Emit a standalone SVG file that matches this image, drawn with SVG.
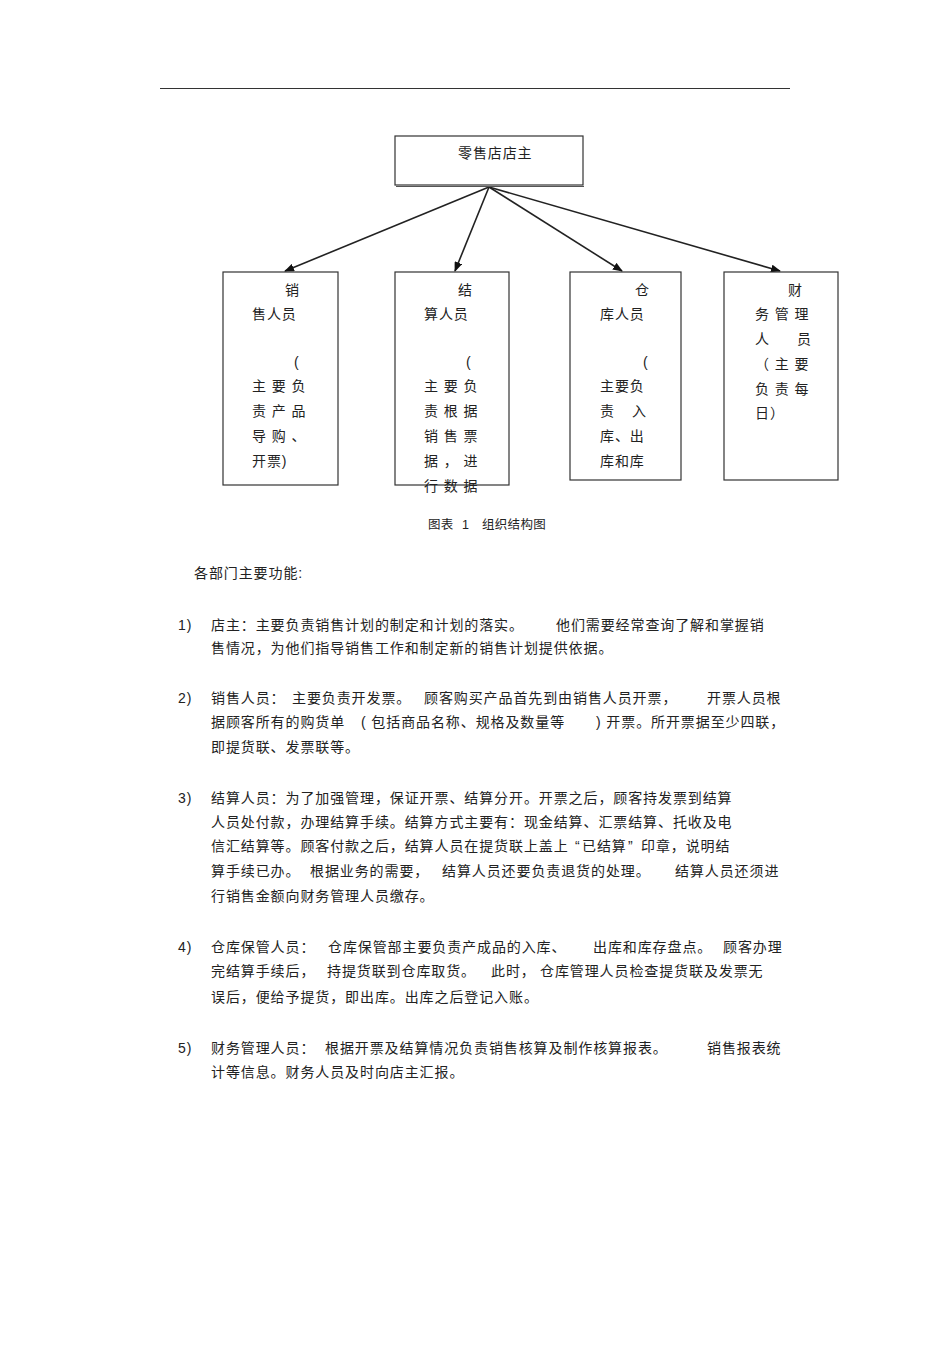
<svg xmlns="http://www.w3.org/2000/svg" width="950" height="1345" viewBox="0 0 950 1345">
<style>
text{font-family:"Liberation Sans","Noto Sans CJK SC",sans-serif;fill:#222;font-size:14px;letter-spacing:0.9px}
.box{fill:#fff;stroke:#333;stroke-width:1.2}
.cap{font-size:12.5px;letter-spacing:0.3px}
.ln{stroke:#222;stroke-width:1.6;fill:none}
</style>
<defs>
<marker id="ah" markerWidth="10" markerHeight="8" refX="9" refY="4" orient="auto" markerUnits="userSpaceOnUse">
<path d="M0,0 L10,4 L0,8 Z" fill="#111"/>
</marker>
</defs>
<rect width="950" height="1345" fill="#fff"/>
<line x1="160" y1="88.5" x2="790" y2="88.5" stroke="#333" stroke-width="1"/>

<g id="connectors">
<line class="ln" x1="489" y1="187" x2="285" y2="271" marker-end="url(#ah)"/>
<line class="ln" x1="489" y1="187" x2="455" y2="271" marker-end="url(#ah)"/>
<line class="ln" x1="489" y1="187" x2="622" y2="271" marker-end="url(#ah)"/>
<line class="ln" x1="489" y1="187" x2="780" y2="271" marker-end="url(#ah)"/>
</g>

<g id="owner">
<rect class="box" x="395" y="136" width="188" height="49"/>
<line x1="396" y1="186.5" x2="584" y2="186.5" stroke="#555" stroke-width="1"/>
<text x="458" y="158">零售店店主</text>
</g>

<g id="sales">
<rect class="box" x="223" y="272" width="115" height="213"/>
<text x="285" y="295">销</text>
<text x="252" y="319">售人员</text>
<text x="294" y="367">(</text>
<text x="252" y="391">主 要 负</text>
<text x="252" y="416">责 产 品</text>
<text x="252" y="441">导 购 、</text>
<text x="252" y="466">开票)</text>
</g>

<g id="settle">
<rect class="box" x="395" y="272" width="114" height="213"/>
<text x="458" y="295">结</text>
<text x="424" y="319">算人员</text>
<text x="466" y="367">(</text>
<text x="424" y="391">主 要 负</text>
<text x="424" y="416">责 根 据</text>
<text x="424" y="441">销 售 票</text>
<text x="424" y="466">据 ， 进</text>
<text x="424" y="491">行 数 据</text>
</g>

<g id="warehouse">
<rect class="box" x="570" y="272" width="111" height="208"/>
<text x="635" y="295">仓</text>
<text x="600" y="319">库人员</text>
<text x="643" y="367">(</text>
<text x="600" y="391">主要负</text>
<text x="600" y="416">责<tspan x="632">入</tspan></text>
<text x="600" y="441">库、出</text>
<text x="600" y="466">库和库</text>
</g>

<g id="finance">
<rect class="box" x="724" y="272" width="114" height="208"/>
<text x="788" y="295">财</text>
<text x="755" y="319">务 管 理</text>
<text x="755" y="344">人<tspan x="797">员</tspan></text>
<text x="755" y="369">（ 主 要</text>
<text x="755" y="394">负 责 每</text>
<text x="755" y="418">日）</text>
</g>

<text class="cap" x="428" y="529">图表<tspan x="462">1</tspan><tspan x="482">组织结构图</tspan></text>
<text x="194" y="578">各部门主要功能:</text>

<text x="178" y="630">1)</text>
<text x="211" y="630">店主：主要负责销售计划的制定和计划的落实。<tspan x="556">他们需要经常查询了解和掌握销</tspan></text>
<text x="211" y="653">售情况，为他们指导销售工作和制定新的销售计划提供依据。</text>

<text x="178" y="703">2)</text>
<text x="211" y="703">销售人员：<tspan x="292">主要负责开发票。</tspan><tspan x="424">顾客购买产品首先到由销售人员开票，</tspan><tspan x="707">开票人员根</tspan></text>
<text x="211" y="727">据顾客所有的购货单<tspan x="361">( 包括商品名称、规格及数量等</tspan><tspan x="596">) 开票。所开票据至少四联，</tspan></text>
<text x="211" y="752">即提货联、发票联等。</text>

<text x="178" y="803">3)</text>
<text x="211" y="803">结算人员：为了加强管理，保证开票、结算分开。开票之后，顾客持发票到结算</text>
<text x="211" y="827">人员处付款，办理结算手续。结算方式主要有：现金结算、汇票结算、托收及电</text>
<text x="211" y="851">信汇结算等。顾客付款之后，结算人员在提货联上盖上<tspan x="575">“</tspan><tspan x="582">已结算</tspan><tspan x="628">”</tspan><tspan x="641">印章，说明结</tspan></text>
<text x="211" y="876">算手续已办。<tspan x="310">根据业务的需要，</tspan><tspan x="442">结算人员还要负责退货的处理。</tspan><tspan x="675">结算人员还须进</tspan></text>
<text x="211" y="901">行销售金额向财务管理人员缴存。</text>

<text x="178" y="952">4)</text>
<text x="211" y="952">仓库保管人员：<tspan x="328">仓库保管部主要负责产成品的入库、</tspan><tspan x="593">出库和库存盘点。</tspan><tspan x="723">顾客办理</tspan></text>
<text x="211" y="976">完结算手续后，<tspan x="327">持提货联到仓库取货。</tspan><tspan x="491">此时，</tspan><tspan x="540">仓库管理人员检查提货联及发票无</tspan></text>
<text x="211" y="1002">误后，便给予提货，即出库。出库之后登记入账。</text>

<text x="178" y="1053">5)</text>
<text x="211" y="1053">财务管理人员：<tspan x="325">根据开票及结算情况负责销售核算及制作核算报表。</tspan><tspan x="707">销售报表统</tspan></text>
<text x="211" y="1077">计等信息。财务人员及时向店主汇报。</text>
</svg>
